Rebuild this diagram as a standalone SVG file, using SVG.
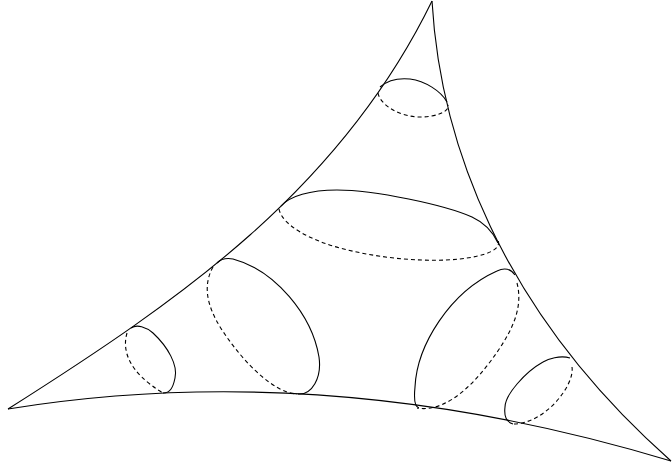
<svg xmlns="http://www.w3.org/2000/svg" width="672" height="468" viewBox="0 0 672 468">
<style>
path{fill:none;stroke:#000;stroke-width:1.1}
.d{stroke-dasharray:4 3}
</style>
<rect width="672" height="468" fill="#fff"/>
<g id="outline">
<path d="M8 409C180 300 340 190 432 1"/>
<path d="M8 409C200 378 420 385 671 461"/>
<path d="M432 1C440 140 500 310 671 461"/>
</g>
<g id="section-top">
<path d="M380 87C388 80 400 78 410 79C425 81 441 91 447 102"/>
<path class="d" d="M378 93C380 105 400 117 420 117C435 117 450 112 448 105"/>
</g>
<g id="section-middle">
<path d="M281 206C290 196 310 190 337 190C375 190 445 205 472 217C485 223 493 232 498 243"/>
<path class="d" d="M279 209C282 225 310 240 340 248C385 260 430 262 460 259C485 256 502 250 498 240"/>
</g>
<g id="section-left-large">
<path d="M217 263C222 258 228 258 233 259C275 270 312 315 319 357C322 378 312 395 298 394"/>
<path class="d" d="M213 267C203 285 206 305 222 330C245 365 275 393 297 394"/>
</g>
<g id="section-left-small">
<path d="M131 328C137 324 146 327 153 333C168 347 178 365 175 378C173 388 170 393 163 393"/>
<path class="d" d="M127 333C122 350 128 372 163 393"/>
</g>
<g id="section-right-large">
<path d="M515 275C510 268 503 268 497 271C450 292 417 345 415 387C414 397 414 407 419 408"/>
<path class="d" d="M517 283C524 310 510 335 490 362C465 395 440 412 417 408"/>
</g>
<g id="section-right-small">
<path d="M570 358C560 355 548 359 543 362C525 372 505 395 505 407C504 415 506 422 513 424"/>
<path class="d" d="M572 367C575 385 545 424 513 424"/>
</g>
</svg>
